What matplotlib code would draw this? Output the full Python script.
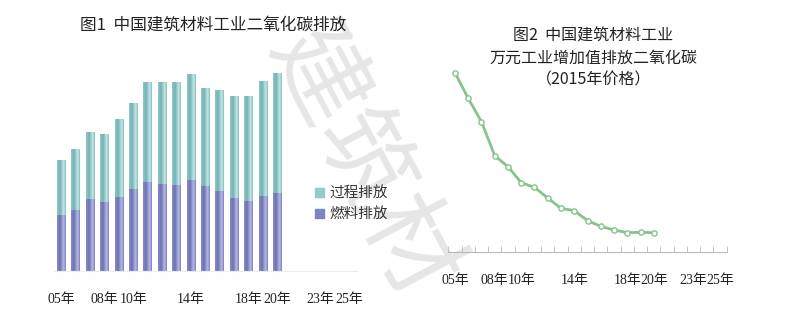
import numpy as np
import matplotlib
matplotlib.use('Agg')
import matplotlib.pyplot as plt
from matplotlib.patches import Patch
from matplotlib.colors import LinearSegmentedColormap

plt.rcParams['font.family'] = ['Noto Sans CJK SC', 'DejaVu Sans']

# data
years = list(range(2005, 2026))
bar_years = list(range(2005, 2021))
fuel = [4.23, 4.55, 5.43, 5.18, 5.58, 6.18, 6.68, 6.55, 6.45, 6.85, 6.35, 5.98, 5.45, 5.25, 5.65, 5.88]
process = [4.07, 4.63, 5.00, 5.12, 5.82, 6.45, 7.47, 7.60, 7.70, 7.90, 7.40, 7.57, 7.70, 7.90, 8.58, 8.97]
intensity = [5.37, 4.60, 3.90, 2.88, 2.55, 2.07, 1.93, 1.61, 1.30, 1.23, 0.93, 0.76, 0.65, 0.57, 0.58, 0.57]
shown_labels = {2005: '05年', 2008: '08年', 2010: '10年', 2014: '14年',
                2018: '18年', 2020: '20年', 2023: '23年', 2025: '25年'}

fuel_cmap = LinearSegmentedColormap.from_list(
    'fuel', [(0, '#868bc8'), (0.35, '#6d72b2'), (0.75, '#b6bae6'), (1, '#7b80bf')])
proc_cmap = LinearSegmentedColormap.from_list(
    'proc', [(0, '#90c8c9'), (0.35, '#74b2b4'), (0.75, '#c6e6e6'), (1, '#86c0c2')])

tick_font = ['Liberation Serif', 'Noto Sans CJK SC']
fig = plt.figure(figsize=(8.04, 3.26), dpi=100)

# watermark
fig.text(0.45, 0.50, '建筑材', fontsize=70, color='#e6e6e6', rotation=-62, weight='light',
         ha='center', va='center', zorder=-1, family=['Noto Sans CJK SC'])


def gradient_bars(ax, bars, cmap):
    grad = np.linspace(0, 1, 64).reshape(1, -1)
    for b in bars:
        x0, y0 = b.get_x(), b.get_y()
        im = ax.imshow(grad, cmap=cmap, aspect='auto', zorder=2,
                       extent=[x0, x0 + b.get_width(), y0, y0 + b.get_height()])
        im.set_clip_path(b)
        b.set_alpha(0)


# Figure 1: stacked bars
ax1 = fig.add_axes([0.0675, 0.1687, 0.3762, 0.6135])
ax1.patch.set_alpha(0)
x = np.arange(len(bar_years))
b1 = ax1.bar(x, fuel, width=0.62, color='#7d84c2', zorder=2)
b2 = ax1.bar(x, process, width=0.62, bottom=fuel, color='#8ecbcc', zorder=2)
gradient_bars(ax1, b1, fuel_cmap)
gradient_bars(ax1, b2, proc_cmap)
ax1.set_xlim(-0.5, len(years) - 0.5)
ax1.set_ylim(0, 15)
for s in ['top', 'right', 'left']:
    ax1.spines[s].set_visible(False)
ax1.spines['bottom'].set_color('#ececec')
ax1.set_yticks([])
ax1.set_xticks([years.index(y) for y in shown_labels])
ax1.set_xticklabels(list(shown_labels.values()), family=tick_font, fontsize=10, color='#222222')
ax1.tick_params(axis='x', length=0, pad=16)
fig.text(0.265, 0.922, '图1  中国建筑材料工业二氧化碳排放', fontsize=12, ha='center', va='center', color='#222222')
ax1.legend(handles=[Patch(color='#8ecbcc', label='过程排放'), Patch(color='#7d84c2', label='燃料排放')],
           loc='center left', bbox_to_anchor=(0.862, 0.335), frameon=False, fontsize=10.5,
           borderpad=0, borderaxespad=0,
           handlelength=0.6, handleheight=0.6, handletextpad=0.4, labelspacing=0.45,
           labelcolor='#333333')

# Figure 2: line
ax2 = fig.add_axes([0.5576, 0.228, 0.3463, 0.6135])
ax2.patch.set_alpha(0)
ax2.plot(np.arange(len(intensity)), intensity, color='#86c48b', lw=2,
         marker='o', ms=3.8, mfc='white', mec='#86c48b', mew=1)
ax2.set_xlim(-0.5, len(years) - 0.5)
ax2.set_ylim(0, 6)
for s in ['top', 'right', 'left']:
    ax2.spines[s].set_visible(False)
ax2.spines['bottom'].set_color('#b8b8b8')
ax2.set_yticks([])
ax2.set_xticks(np.arange(len(years) + 1) - 0.5, minor=True)
ax2.set_xticks([years.index(y) for y in shown_labels])
ax2.set_xticklabels(list(shown_labels.values()), family=tick_font, fontsize=10, color='#222222')
ax2.tick_params(axis='x', which='major', length=0, pad=16)
ax2.tick_params(axis='x', which='minor', length=4, direction='in', color='#b8b8b8')
fig.text(0.738, 0.889, '图2  中国建筑材料工业', fontsize=11.5, ha='center', va='center', color='#222222')
fig.text(0.738, 0.822, '万元工业增加值排放二氧化碳', fontsize=11.5, ha='center', va='center', color='#222222')
fig.text(0.738, 0.755, '（2015年价格）', fontsize=11.5, ha='center', va='center', color='#222222')

fig.savefig('out.png', dpi=100)
